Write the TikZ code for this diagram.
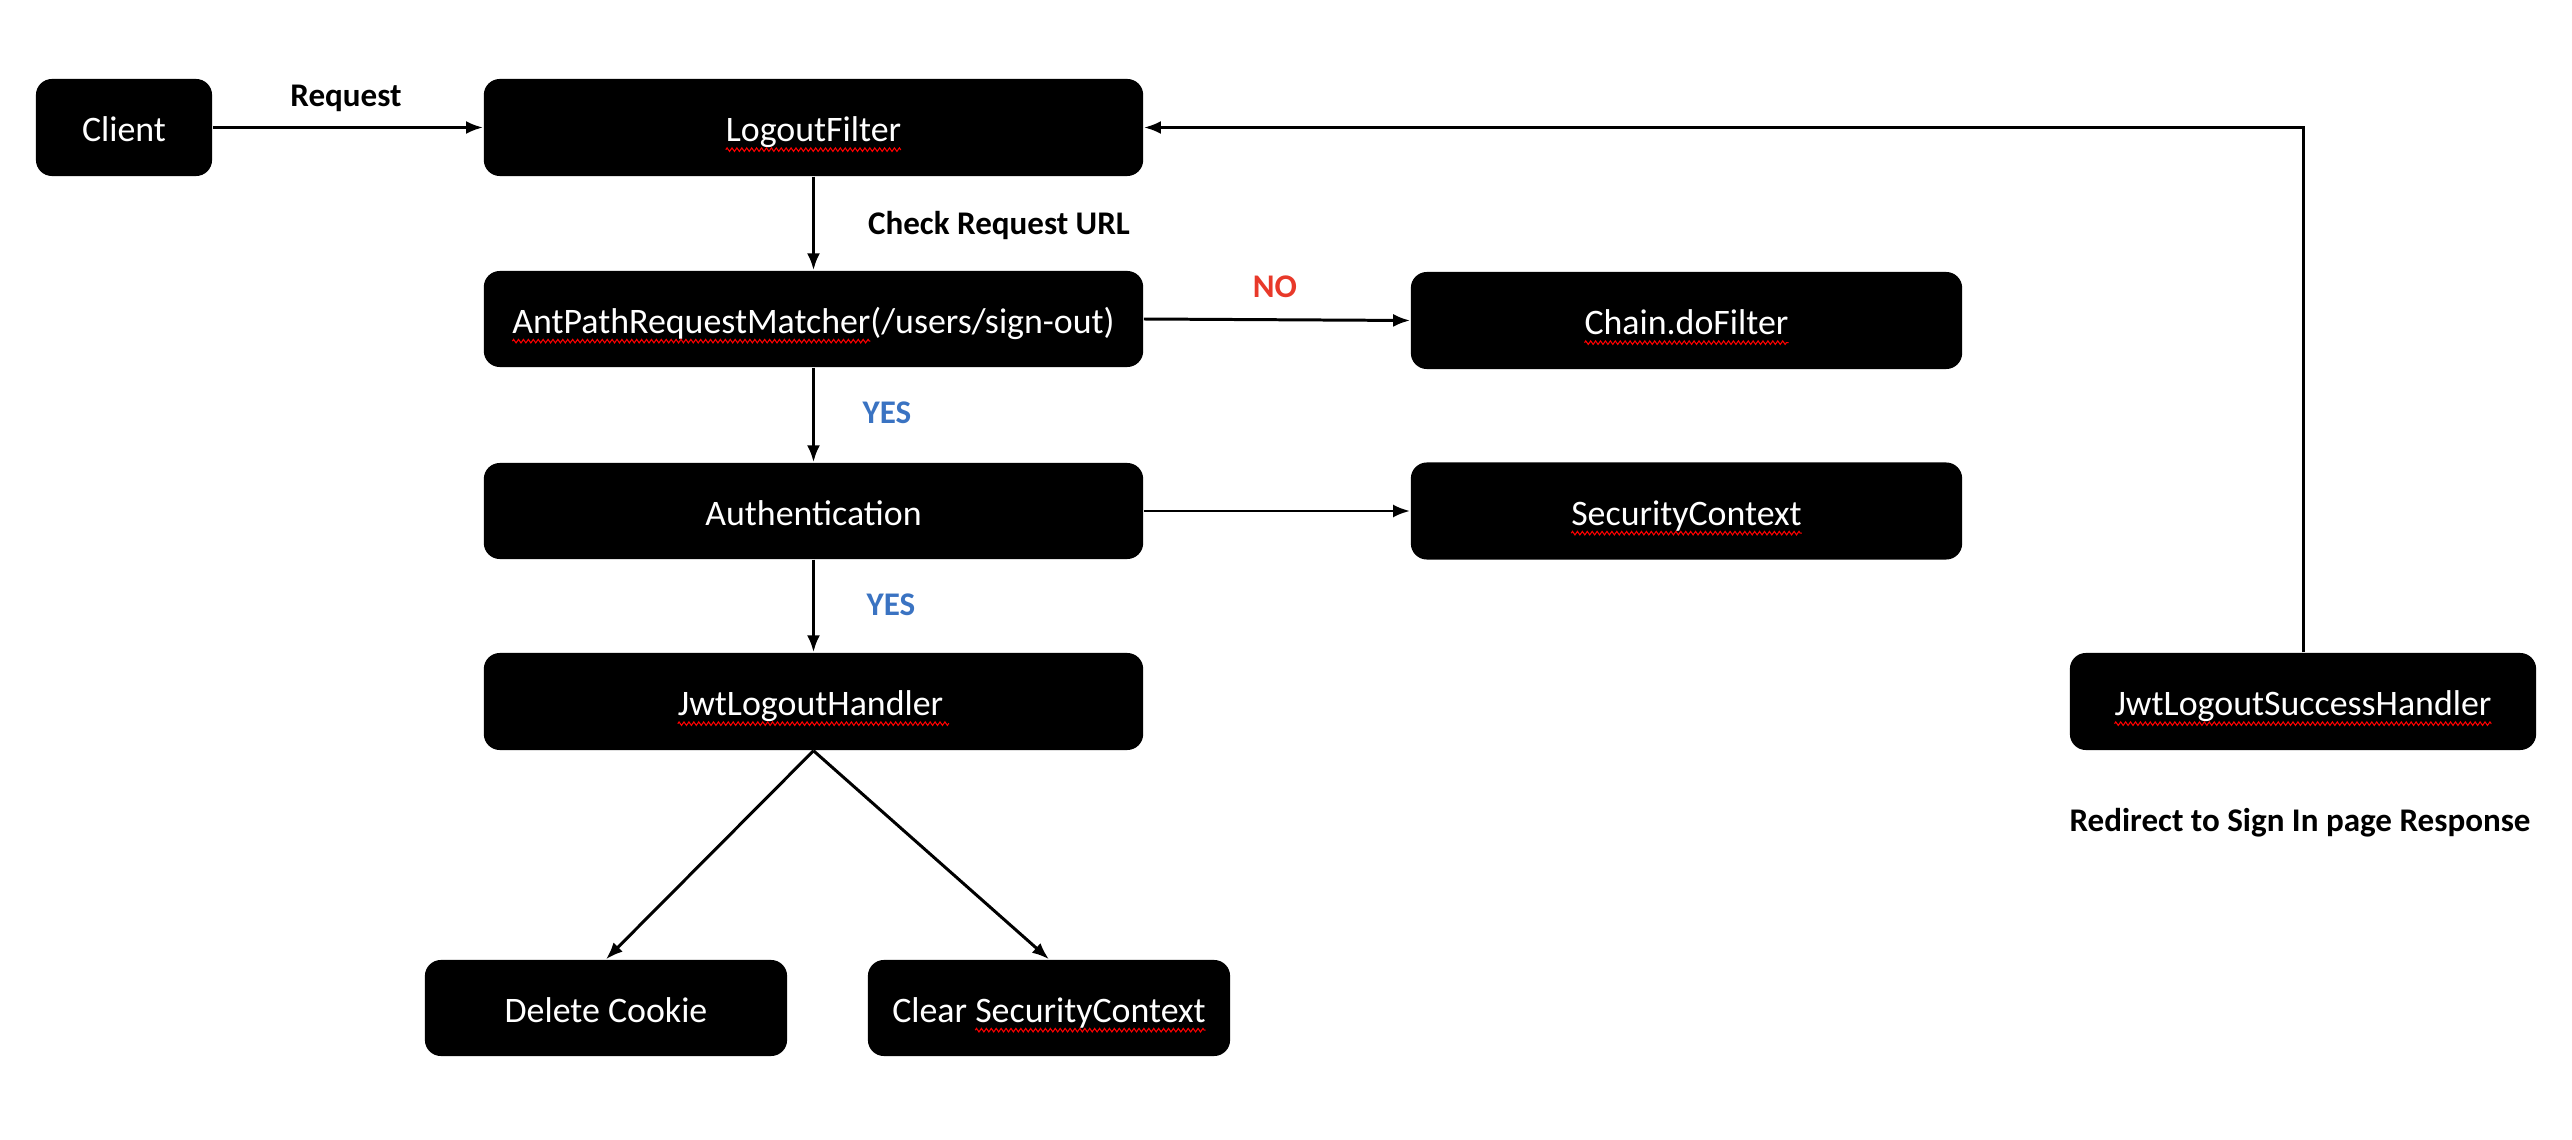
\documentclass[tikz,border=0pt]{standalone}
\usepackage{fontspec}
\setmainfont{Carlito}
\usetikzlibrary{arrows.meta,decorations.pathmorphing}
\definecolor{nored}{HTML}{E8392A}
\definecolor{yesblue}{HTML}{3A73C2}
\newcommand\sq[1]{\tikz[baseline=(sqt.base),x=1cm,y=1cm]{%
  \node[inner sep=0pt, outer sep=0pt, minimum width=0pt, minimum height=0pt, text height=, text depth=, fill=none, draw=none, text=white, rounded corners=0pt] (sqt) {#1};%
  \draw[overlay, red, line width=0.3pt, rounded corners=0pt, decorate, decoration={zigzag, amplitude=0.5pt, segment length=1.4pt}]
    ([yshift=-2.2pt]sqt.base west) -- ([yshift=-2.2pt]sqt.base east);}}
\tikzset{
  box/.style={fill=black, text=white, rounded corners=0.16cm, inner sep=0pt,
    text height=8.6pt, text depth=0.4pt,
    font=\fontsize{10.2}{12}\selectfont},
  lbl/.style={font=\fontsize{9.4}{11}\selectfont\bfseries, inner sep=0pt},
  conn/.style={line width=0.85pt, -{Latex[length=0.17cm,width=0.13cm]}},
  plain/.style={line width=0.85pt}
}
\begin{document}
\begin{tikzpicture}[x=0.01cm,y=-0.01cm]
\useasboundingbox (0,0) rectangle (2572,1140);
\node[box, minimum width=1.76cm, minimum height=0.97cm] (client) at (124,127.5) {Client};
\node[box, minimum width=6.59cm, minimum height=0.97cm] (logout) at (813.5,127.5) {\sq{LogoutFilter}};
\node[box, minimum width=6.59cm, minimum height=0.96cm] (ant) at (813.5,319) {\sq{AntPathRequestMatcher}(/users/sign-out)};
\node[box, minimum width=6.59cm, minimum height=0.96cm] (auth) at (813.5,511) {Authentication};
\node[box, minimum width=6.59cm, minimum height=0.97cm] (jwt) at (813.5,701.5) {\sq{JwtLogoutHandler\,}};
\node[box, minimum width=3.62cm, minimum height=0.96cm] (del) at (606,1008) {Delete Cookie};
\node[box, minimum width=3.62cm, minimum height=0.96cm] (clr) at (1049,1008) {Clear \sq{SecurityContext}};
\node[box, minimum width=5.51cm, minimum height=0.97cm] (chain) at (1686.5,320.5) {\sq{Chain.doFilter}};
\node[box, minimum width=5.51cm, minimum height=0.97cm] (sec) at (1686.5,511) {\sq{SecurityContext}};
\node[box, minimum width=4.66cm, minimum height=0.97cm] (succ) at (2303,701.5) {\sq{JwtLogoutSuccessHandler}};

\node[lbl] (lreq) at (346,98) {Request};
\node[lbl] (lcheck) at (999,226) {Check Request URL};
\node[lbl, text=nored] (lno) at (1275,287) {NO};
\node[lbl, text=yesblue] (lyes1) at (887,413) {YES};
\node[lbl, text=yesblue] (lyes2) at (891,605) {YES};
\node[lbl] (lredir) at (2300,823) {Redirect to Sign In page Response};

\draw[conn] (client) -- (logout);
\draw[conn] (logout) -- (ant);
\draw[conn] (ant.east) -- (chain.west);
\draw[conn] (ant) -- (auth);
\draw[conn] (auth.east) -- (sec.west);
\draw[conn] (auth) -- (jwt);
\draw[conn] (jwt.south) -- (del.north);
\draw[conn] (jwt.south) -- (clr.north);
\coordinate (corner) at (succ.north |- logout.east);
\draw[conn] (succ.north) -- (corner) -- (logout.east);
\end{tikzpicture}
\end{document}
